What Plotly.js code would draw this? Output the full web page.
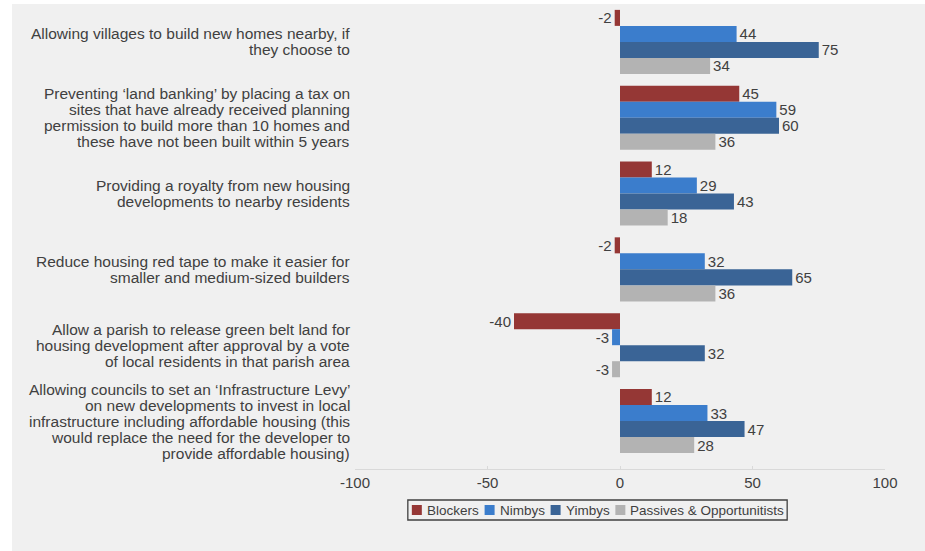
<!DOCTYPE html>
<html>
<head>
<meta charset="utf-8">
<script src="https://cdn.plot.ly/plotly-3.0.1.min.js"></script>
<style>
  html, body { margin: 0; padding: 0; background: #ffffff; }
  #chart { position: absolute; left: 12px; top: 4px; width: 913px; height: 547px; }
</style>
</head>
<body>
<div id="chart"></div>
<script>
const categories = [
  "Allowing villages to build new homes nearby, if<br>they choose to",
  "Preventing ‘land banking’ by placing a tax on<br>sites that have already received planning<br>permission to build more than 10 homes and<br>these have not been built within 5 years",
  "Providing a royalty from new housing<br>developments to nearby residents",
  "Reduce housing red tape to make it easier for<br>smaller and medium-sized builders",
  "Allow a parish to release green belt land for<br>housing development after approval by a vote<br>of local residents in that parish area",
  "Allowing councils to set an ‘Infrastructure Levy’<br>on new developments to invest in local<br>infrastructure including affordable housing (this<br>would replace the need for the developer to<br>provide affordable housing)"
];
const seriesNames = ["Blockers", "Nimbys", "Yimbys", "Passives & Opportunitists"];
const blockers = [-2, 45, 12, -2, -40, 12];
const nimbys   = [44, 59, 29, 32, -3, 33];
const yimbys   = [75, 60, 43, 65, 32, 47];
const passives = [34, 36, 18, 36, -3, 28];
const tickValsX = [-100, -50, 0, 50, 100];

const colors = ["#953735", "#3b7dcc", "#3a6496", "#b3b3b3"];
const values = [blockers, nimbys, yimbys, passives];

const FONT = "Liberation Sans, Arial, sans-serif";
const TXT = "#404040";

// plot geometry (div pixels)
const W = 913, H = 547;
const M = { l: 343, r: 40, t: 0, b: 82 };
const PW = W - M.l - M.r, PH = H - M.t - M.b;
const px2x = px => (px - M.l) / PW;
const py2y = py => (M.t + PH - py) / PH;

const traces = values.map((v, i) => ({
  type: "bar",
  orientation: "h",
  name: seriesNames[i],
  y: categories.map((c, k) => k),
  x: v,
  text: v.map(String),
  textposition: "outside",
  constraintext: "none",
  cliponaxis: false,
  textfont: { family: FONT, size: 15, color: TXT },
  marker: { color: colors[i], line: { width: 0 } },
  hoverinfo: "skip",
  showlegend: false
}));

const annotations = [];
const shapes = [];

// category labels, one annotation per line for tight line spacing
const LINE = 16;
categories.forEach((c, k) => {
  const lines = c.split("<br>");
  const n = lines.length;
  lines.forEach((ln, i) => {
    annotations.push({
      xref: "paper", yref: "y",
      x: px2x(339), y: k,
      xanchor: "right", yanchor: "middle",
      yshift: -((i - (n - 1) / 2) * LINE),
      text: ln, showarrow: false, align: "right",
      borderpad: 0,
      font: { family: FONT, size: 15.5, color: TXT }
    });
  });
});

// custom legend
const LFS = 13.5;
const ctx = document.createElement("canvas").getContext("2d");
ctx.font = LFS + "px 'Liberation Sans', Arial, sans-serif";
const sw = 10, gapST = 4, gapItem = 7, pad = 4;
const widths = seriesNames.map(s => ctx.measureText(s).width);
let total = pad * 2 + widths.reduce((a, w) => a + sw + gapST + w, 0) + gapItem * (seriesNames.length - 1);
const cx = 585.5, boxTop = 496, boxBot = 516;
let xcur = cx - total / 2;
shapes.push({
  type: "rect", xref: "paper", yref: "paper",
  x0: px2x(xcur), x1: px2x(xcur + total),
  y0: py2y(boxBot), y1: py2y(boxTop),
  line: { color: "#404040", width: 1.3 }, fillcolor: "rgba(0,0,0,0)"
});
xcur += pad;
const midY = (boxTop + boxBot) / 2;
seriesNames.forEach((s, i) => {
  shapes.push({
    type: "rect", xref: "paper", yref: "paper",
    x0: px2x(xcur), x1: px2x(xcur + sw),
    y0: py2y(midY + sw / 2), y1: py2y(midY - sw / 2),
    line: { width: 0 }, fillcolor: colors[i]
  });
  xcur += sw + gapST;
  annotations.push({
    xref: "paper", yref: "paper",
    x: px2x(xcur), y: py2y(midY),
    xanchor: "left", yanchor: "middle",
    text: s, showarrow: false, borderpad: 0,
    font: { family: FONT, size: LFS, color: TXT }
  });
  xcur += widths[i] + gapItem;
});

const layout = {
  width: W,
  height: H,
  paper_bgcolor: "#f0f0f0",
  plot_bgcolor: "#f0f0f0",
  font: { family: FONT, size: 15, color: TXT },
  margin: { l: M.l, r: M.r, t: M.t, b: M.b, pad: 0 },
  barmode: "group",
  bargap: 0.155,
  bargroupgap: 0,
  showlegend: false,
  xaxis: {
    range: [-100, 100],
    tickvals: tickValsX,
    ticktext: tickValsX.map(String),
    showgrid: false,
    zeroline: false,
    showline: true,
    linecolor: "#d9d9d9",
    linewidth: 1,
    ticks: "inside",
    ticklen: 3,
    tickcolor: "#d9d9d9",
    tickfont: { family: FONT, size: 15, color: TXT },
    fixedrange: true
  },
  yaxis: {
    range: [5.633, -0.5],
    showgrid: false,
    zeroline: false,
    showline: false,
    showticklabels: false,
    ticks: "",
    fixedrange: true
  },
  annotations: annotations,
  shapes: shapes
};

Plotly.newPlot("chart", traces, layout, { displayModeBar: false, staticPlot: true });
</script>
</body>
</html>
